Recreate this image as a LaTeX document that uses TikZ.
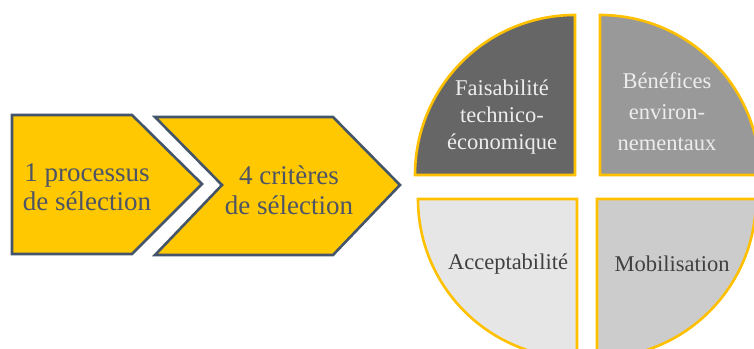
\documentclass[tikz,border=0pt]{standalone}
\usepackage{fontspec}
\setmainfont{Liberation Serif}
\definecolor{chevfill}{HTML}{FFC800}
\definecolor{chevline}{HTML}{44546A}
\definecolor{chevtext}{HTML}{4D5466}
\definecolor{quadline}{HTML}{FFC000}
\definecolor{qa}{HTML}{666666}
\definecolor{qb}{HTML}{999999}
\definecolor{qc}{HTML}{E6E6E6}
\definecolor{qd}{HTML}{CCCCCC}
\definecolor{darktext}{HTML}{404040}
\definecolor{lighttext}{HTML}{EDEDED}
\begin{document}
\begin{tikzpicture}[x=1pt,y=1pt,
  chev/.style={fill=chevfill,draw=chevline,line width=2.6pt,line join=miter},
  quad/.style={draw=quadline,line width=2.6pt,line join=miter},
  chevlabel/.style={text=chevtext,font=\fontsize{27}{29}\selectfont,align=center},
  quadlabel/.style={font=\fontsize{22.5}{27}\selectfont,align=center}]
\useasboundingbox (0,0) rectangle (754,348);
\clip (0,0) rectangle (754,348);
% chevrons
\draw[chev] (12,233) -- (132,233) -- (202,164) -- (132,94) -- (12,94) -- cycle;
\draw[chev] (155,231) -- (333,231) -- (400,163) -- (333,93) -- (155,93) -- (222,163) -- cycle;
\node[chevlabel] (c1) at (87,161) {1 processus\\de sélection};
\node[chevlabel,font=\fontsize{27}{30}\selectfont] (c2) at (289,158) {4 critères\\de sélection};
% quadrants
\draw[quad,fill=qa] (575,173) -- ++(-160,0) arc[start angle=180,end angle=90,radius=160] -- cycle;
\draw[quad,fill=qb] (600,173) -- ++(0,160) arc[start angle=90,end angle=0,radius=160] -- cycle;
\draw[quad,fill=qc] (577,149) -- ++(-159,0) arc[start angle=180,end angle=270,radius=159] -- cycle;
\draw[quad,fill=qd] (597,149) -- ++(0,-159) arc[start angle=270,end angle=360,radius=159] -- cycle;
\node[quadlabel,text=lighttext] (q1) at (502,231) {Faisabilité\\technico-\\économique};
\node[quadlabel,text=lighttext,font=\fontsize{22.5}{31}\selectfont] (q2) at (667,236) {Bénéfices\\environ-\\nementaux};
\node[quadlabel,text=darktext] (q3) at (508,84) {Acceptabilité};
\node[quadlabel,text=darktext] (q4) at (672,84) {Mobilisation};
\end{tikzpicture}
\end{document}
